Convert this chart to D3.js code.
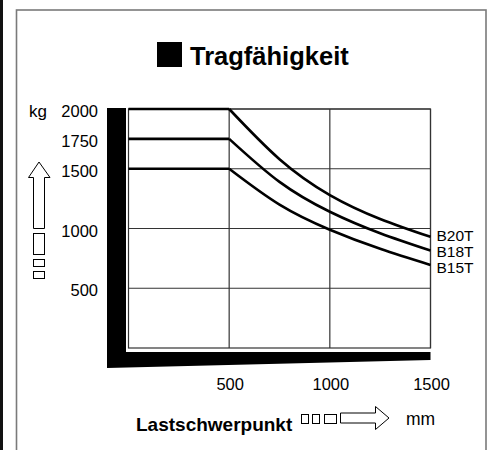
<!DOCTYPE html>
<html>
<head>
<meta charset="utf-8">
<script src="https://cdn.jsdelivr.net/npm/d3@7"></script>
<style>
  html, body { margin: 0; padding: 0; background: #fff; }
  svg { display: block; font-family: "Liberation Sans", Arial, Helvetica, sans-serif; }
</style>
</head>
<body>
<div id="chart"></div>
<script>
const distances = [0, 500, 750, 1000, 1250, 1500]
const seriesNames = ["B20T", "B18T", "B15T"]
const b20t = [2000, 2000, 1580, 1280, 1080, 930]
const b18t = [1750, 1750, 1390, 1140, 960, 815]
const b15t = [1500, 1500, 1200, 990, 830, 695]
const yTicks = [500, 1000, 1500, 1750, 2000]
const yGrid = [500, 1000, 1500, 2000]
const xTicks = [500, 1000, 1500]

const width = 492
const height = 450

const svg = d3.select("#chart")
  .append("svg")
  .attr("width", width)
  .attr("height", height)

// page edge line and frame
svg.append("rect")
  .attr("x", 0).attr("y", 0)
  .attr("width", 3).attr("height", height)
  .attr("fill", "#111")

svg.append("rect")
  .attr("x", 16.5).attr("y", 10)
  .attr("width", 469.5).attr("height", 500)
  .attr("fill", "none")
  .attr("stroke", "#7a7a7a")
  .attr("stroke-width", 1.6)

// title
svg.append("rect")
  .attr("x", 157).attr("y", 42)
  .attr("width", 25).attr("height", 25)
  .attr("fill", "#000")

svg.append("text")
  .attr("x", 190).attr("y", 65)
  .attr("font-size", 25.5)
  .attr("font-weight", "bold")
  .text("Tragfähigkeit")

const x = d3.scaleLinear().domain([0, 1500]).range([128.5, 430.5])
const y = d3.scaleLinear().domain([0, 2000]).range([348, 109])

// black L-shaped base
const bx0 = x(0) - 21.5
const bx1 = x(0) - 2.5
const by0 = y(0) + 4
svg.append("path")
  .attr("d", `M${bx0},${y(2000) - 1} L${bx1},${y(2000) - 1} L${bx1},${by0} L${x(1500)},${by0}
    L${x(1500)},${by0 + 8} L${bx0},${by0 + 16} Z`)
  .attr("fill", "#000")

// grid
const g = svg.append("g")
  .attr("stroke", "#333")
  .attr("stroke-width", 1.2)
  .attr("fill", "none")

g.append("rect")
  .attr("x", x(0)).attr("y", y(2000))
  .attr("width", x(1500) - x(0))
  .attr("height", y(0) - y(2000))

g.selectAll("line.h")
  .data(yGrid)
  .enter()
  .append("line")
  .attr("x1", x(0)).attr("x2", x(1500))
  .attr("y1", d => y(d)).attr("y2", d => y(d))

g.selectAll("line.v")
  .data(xTicks)
  .enter()
  .append("line")
  .attr("x1", d => x(d)).attr("x2", d => x(d))
  .attr("y1", y(0)).attr("y2", y(2000))

// curves: flat part up to 500 mm, then the falling part
const flat = d3.line()
  .x((d, i) => x(distances[i]))
  .y(d => y(d))

const falling = d3.line()
  .x((d, i) => x(distances[i + 1]))
  .y(d => y(d))
  .curve(d3.curveNatural)

const curves = svg.selectAll("g.curve")
  .data([b20t, b18t, b15t])
  .enter()
  .append("g")
  .attr("fill", "none")
  .attr("stroke", "#000")
  .attr("stroke-width", 2.6)
  .attr("stroke-linejoin", "round")

curves.append("path").attr("d", d => flat(d.slice(0, 2)))
curves.append("path").attr("d", d => falling(d.slice(1)))

// series labels
const labelY = [241, 257, 273]
svg.selectAll("text.series")
  .data(seriesNames)
  .enter()
  .append("text")
  .attr("x", x(1500) + 6)
  .attr("y", (d, i) => labelY[i])
  .attr("font-size", 15.5)
  .text(d => d)

// y tick labels
svg.selectAll("text.ytick")
  .data(yTicks)
  .enter()
  .append("text")
  .attr("x", 98)
  .attr("y", d => y(d) + 8)
  .attr("text-anchor", "end")
  .attr("font-size", 16.5)
  .text(d => d)

svg.append("text")
  .attr("x", 29).attr("y", y(2000) + 8)
  .attr("font-size", 17)
  .text("kg")

// x tick labels
svg.selectAll("text.xtick")
  .data(xTicks)
  .enter()
  .append("text")
  .attr("x", d => x(d) + 1)
  .attr("y", 390)
  .attr("text-anchor", "middle")
  .attr("font-size", 16.5)
  .text(d => d)

// vertical arrow and boxes
const deco = svg.append("g")
  .attr("fill", "#fff")
  .attr("stroke", "#000")
  .attr("stroke-width", 1)

deco.append("path")
  .attr("d", "M33.5,228.5 L33.5,177.5 L28.5,177.5 L39,162 L50,177.5 L44.5,177.5 L44.5,228.5 Z")

deco.append("rect").attr("x", 33.5).attr("y", 233.5).attr("width", 11).attr("height", 21)
deco.append("rect").attr("x", 33.5).attr("y", 259.5).attr("width", 11).attr("height", 7)
deco.append("rect").attr("x", 33.5).attr("y", 271.5).attr("width", 11).attr("height", 7)

// horizontal arrow and boxes
deco.append("rect").attr("x", 301.5).attr("y", 414.5).attr("width", 7).attr("height", 9)
deco.append("rect").attr("x", 312.5).attr("y", 414.5).attr("width", 7).attr("height", 9)
deco.append("rect").attr("x", 324.5).attr("y", 414.5).attr("width", 12).attr("height", 9)

deco.append("path")
  .attr("d", "M340.5,413 L375.5,413 L375.5,406.5 L389,418 L375.5,429.5 L375.5,423 L340.5,423 Z")

svg.append("text")
  .attr("x", 136).attr("y", 431)
  .attr("font-size", 19)
  .attr("font-weight", "bold")
  .text("Lastschwerpunkt")

svg.append("text")
  .attr("x", 406).attr("y", 425)
  .attr("font-size", 17.5)
  .text("mm")
</script>
</body>
</html>
